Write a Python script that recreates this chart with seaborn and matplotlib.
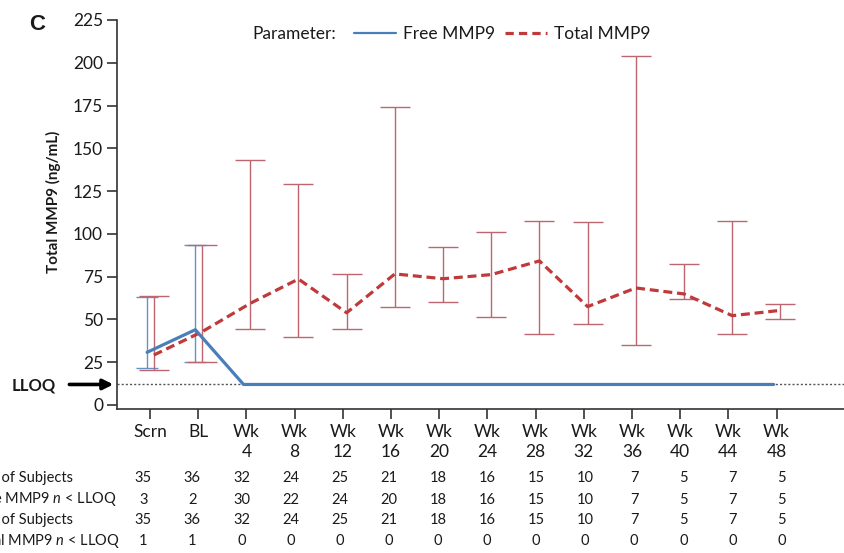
import numpy as np
import pandas as pd
import matplotlib
matplotlib.use("Agg")
import matplotlib.pyplot as plt
import matplotlib.transforms as mtransforms
from matplotlib.lines import Line2D
import seaborn as sns

# ---- data -------------------------------------------------------------
visits = ["Scrn", "BL", "Wk 4", "Wk 8", "Wk 12", "Wk 16", "Wk 20", "Wk 24",
          "Wk 28", "Wk 32", "Wk 36", "Wk 40", "Wk 44", "Wk 48"]

lloq = 12.0

free_mid = [30.8, 44.0, 12.0, 12.0, 12.0, 12.0, 12.0, 12.0, 12.0, 12.0, 12.0, 12.0, 12.0, 12.0]
free_low = [21.8, 25.3, None, None, None, None, None, None, None, None, None, None, None, None]
free_high = [62.9, 93.5, None, None, None, None, None, None, None, None, None, None, None, None]

total_mid = [29.2, 42.8, 59.4, 73.6, 53.9, 76.6, 73.8, 76.2, 84.2, 57.5, 68.4, 64.9, 52.2, 55.3]
total_low = [20.5, 25.3, 44.2, 39.9, 44.2, 57.5, 60.4, 51.3, 41.7, 47.2, 35.3, 61.8, 41.7, 50.4]
total_high = [63.9, 93.5, 143.2, 129.2, 76.4, 174.0, 92.3, 100.9, 107.5, 106.8, 204.0, 82.2, 107.5, 59.2]

free_n = [35, 36, 32, 24, 25, 21, 18, 16, 15, 10, 7, 5, 7, 5]
free_below = [3, 2, 30, 22, 24, 20, 18, 16, 15, 10, 7, 5, 7, 5]
total_n = [35, 36, 32, 24, 25, 21, 18, 16, 15, 10, 7, 5, 7, 5]
total_below = [1, 1, 0, 0, 0, 0, 0, 0, 0, 0, 0, 0, 0, 0]

row_labels = ["Number of Subjects", r"Free MMP9 $n$ < LLOQ",
              "Number of Subjects", r"Total MMP9 $n$ < LLOQ"]

# ---- style ------------------------------------------------------------
sns.set_style("ticks")
plt.rcParams["font.family"] = ["Lato", "DejaVu Sans"]
plt.rcParams["mathtext.fontset"] = "custom"
plt.rcParams["mathtext.rm"] = "Lato"
plt.rcParams["mathtext.it"] = "Lato:italic"
plt.rcParams["text.color"] = "#1a1a1a"

BLUE = "#4a7ebb"
BLUE_ERR = "#6590c8"
RED = "#c0393b"
RED_ERR = "#bd6670"
AX_COL = "#333333"

W, H = 845, 553
fig = plt.figure(figsize=(W / 100, H / 100), dpi=100)
ax = fig.add_axes([117 / W, 1 - 409 / H, 1 - 117 / W, (409 - 20) / H])

pos = np.arange(len(visits))
free_x = pos - 0.06
total_x = pos + 0.08

df = pd.concat([
    pd.DataFrame({"x": total_x, "value": total_mid, "Parameter": "Total MMP9"}),
    pd.DataFrame({"x": free_x, "value": free_mid, "Parameter": "Free MMP9"}),
], ignore_index=True)

# error bars (drawn beneath the lines)
fl = np.array(free_low, dtype=float)
fh = np.array(free_high, dtype=float)
fm = np.array(free_mid, dtype=float)
ok = ~np.isnan(fl)
ax.errorbar(free_x[ok], fm[ok], yerr=[fm[ok] - fl[ok], fh[ok] - fm[ok]],
            fmt="none", ecolor=BLUE_ERR, elinewidth=1.0, capsize=8, capthick=1.0, zorder=2)

tm = np.array(total_mid, dtype=float)
ax.errorbar(total_x, tm, yerr=[tm - np.array(total_low), np.array(total_high) - tm],
            fmt="none", ecolor=RED_ERR, elinewidth=1.0, capsize=11, capthick=1.0, zorder=2)

# LLOQ reference line
ax.axhline(lloq, color="#555555", lw=1.0, ls=(0, (1.5, 1.5)), zorder=1)

sns.lineplot(data=df[df.Parameter == "Total MMP9"], x="x", y="value", color=RED,
             lw=2.3, dashes=False, sort=False, estimator=None, ax=ax, zorder=3)
ax.lines[-1].set_dashes((2.8, 1.5))
sns.lineplot(data=df[df.Parameter == "Free MMP9"], x="x", y="value", color=BLUE,
             lw=2.3, sort=False, estimator=None, ax=ax, zorder=4)

# ---- axes -------------------------------------------------------------
ax.set_xlim(-0.685, 14.42)
ax.set_ylim(-2.34, 225)
ax.set_yticks(np.arange(0, 226, 25))
ax.set_xticks(pos)
ax.set_xticklabels([v.replace(" ", "\n") for v in visits], linespacing=1.25)
ax.set_xlabel("")
ax.set_ylabel("")
for side in ["top", "right"]:
    ax.spines[side].set_visible(False)
for side in ["left", "bottom"]:
    ax.spines[side].set_color(AX_COL)
    ax.spines[side].set_linewidth(1.2)
ax.tick_params(axis="both", length=7, width=1.2, color=AX_COL, labelsize=12.5,
               labelcolor="#1a1a1a", pad=3)
ax.tick_params(axis="x", pad=4)

fig.text(53 / W, 1 - 202 / H, "Total MMP9 (ng/mL)", rotation=90, ha="center",
         va="center", fontsize=11, fontweight="bold")

fig.text(29 / W, 1 - 24 / H, "C", fontsize=16, fontweight="bold",
         family=["Liberation Sans", "DejaVu Sans"], ha="left", va="center")

# LLOQ marker with arrow
fig.text(12 / W, 1 - 385.5 / H, "LLOQ", fontsize=12, fontweight="bold",
         ha="left", va="center")
ax.annotate("", xy=(-0.005, lloq), xycoords=("axes fraction", "data"),
            xytext=(-44, 0), textcoords="offset pixels",
            arrowprops=dict(arrowstyle="-|>", lw=2.6, color="black",
                            mutation_scale=15, shrinkA=0, shrinkB=0),
            annotation_clip=False)

# legend
fig.text(252 / W, 1 - 34 / H, "Parameter:", fontsize=12.5, ha="left", va="center")
handles = [Line2D([], [], color=BLUE, lw=1.6),
           Line2D([], [], color=RED, lw=2.3, dashes=(2.6, 1.6))]
fig.legend(handles, ["Free MMP9", "Total MMP9"], loc="center left",
           bbox_to_anchor=(354 / W, 1 - 34 / H), frameon=False, ncol=2,
           handlelength=2.4, handletextpad=0.4, columnspacing=0.6,
           borderpad=0, borderaxespad=0, fontsize=12.5)

# subject count table below the axis
trans = mtransforms.blended_transform_factory(ax.transData, fig.transFigure)
row_y = [478.3, 499.5, 520.3, 540.7]
label_right = [73, 117, 73, 120]
col_x = -0.14 + pos * (49.1 / 48.2)
for r, row in enumerate([free_n, free_below, total_n, total_below]):
    y = 1 - row_y[r] / H
    fig.text(label_right[r] / W, y, row_labels[r], ha="right", va="center", fontsize=10.5)
    for cx, val in zip(col_x, row):
        ax.text(cx, y, str(val), transform=trans, ha="center", va="center",
                fontsize=10.5, clip_on=False)

fig.savefig("out.png", dpi=100)
